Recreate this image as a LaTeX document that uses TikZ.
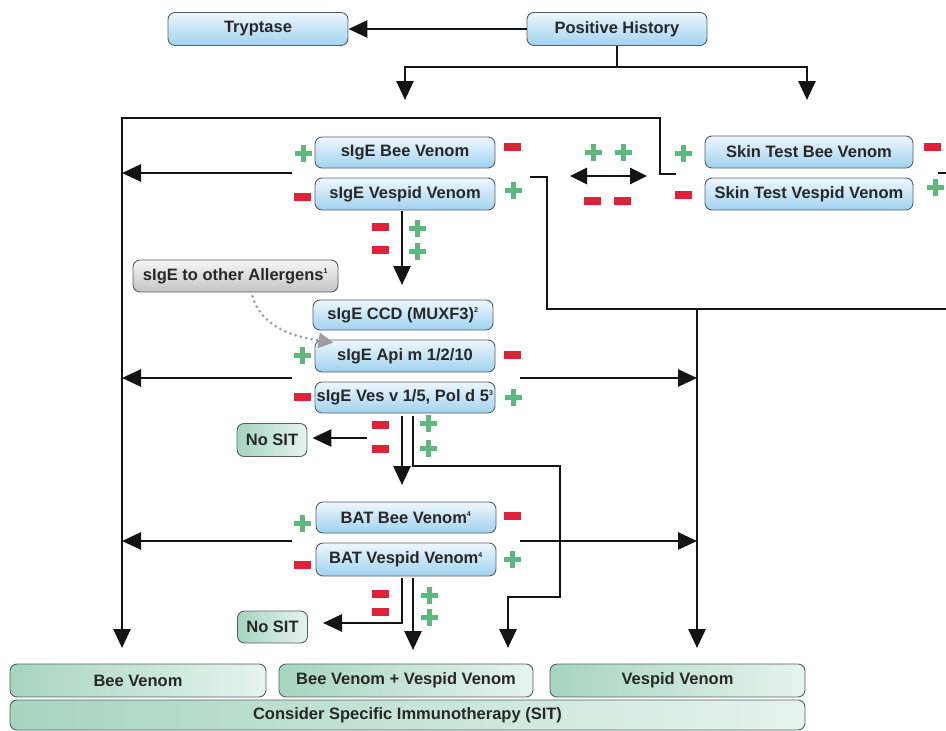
\documentclass[tikz,border=0pt]{standalone}
\usepackage{fontspec}
\setmainfont{Liberation Sans}
\usetikzlibrary{arrows.meta,calc}
\definecolor{bluetop}{RGB}{238,247,253}
\definecolor{bluebot}{RGB}{160,210,240}
\definecolor{greenL}{RGB}{166,213,190}
\definecolor{greenR}{RGB}{230,244,237}
\definecolor{grayT}{RGB}{246,246,246}
\definecolor{grayB}{RGB}{195,195,195}
\definecolor{pgreen}{RGB}{92,184,124}
\definecolor{pred}{RGB}{224,34,56}
\definecolor{bord}{RGB}{85,95,105}
\definecolor{txt}{RGB}{40,40,40}
\newcommand\mysup[1]{\textsuperscript{\fontsize{7}{7}\selectfont #1}}
\begin{document}
\begin{tikzpicture}[x=1pt,y=-1pt,
  box/.style={rounded corners=7pt, draw=bord, line width=0.9pt, inner sep=0pt,
    font=\fontsize{16.5}{18}\selectfont\bfseries, text=txt},
  bluebox/.style={box, top color=bluetop, bottom color=bluebot, minimum width=180pt, minimum height=32pt},
  greenbox/.style={box, left color=greenL, right color=greenR, minimum height=33pt},
  graybox/.style={box, top color=grayT, bottom color=grayB, minimum height=32pt},
  line/.style={line width=2.8pt, draw=black!92},
  arr/.style={line, -{Triangle[length=19pt,width=17pt]}},
  darr/.style={line, {Triangle[length=17pt,width=16pt]}-{Triangle[length=17pt,width=16pt]}},
  dotarr/.style={draw=black!38, line width=3pt, line cap=round, dash pattern=on 0pt off 5.5pt,
    -{Triangle[length=15pt,width=15pt,fill=black!38]}},
  plusmark/.pic={\fill[pgreen] (-8.5,-2.5) rectangle (8.5,2.5); \fill[pgreen] (-2.5,-8.5) rectangle (2.5,8.5);},
  minusmark/.pic={\fill[pred] (-8.5,-4) rectangle (8.5,4);}
]
\useasboundingbox (0,0) rectangle (946,731);

% ---------- connectors ----------
\coordinate (phj) at (617,67);
\coordinate (a1) at (405,100);
\coordinate (a2) at (807,100);
\coordinate (skl) at (676,174);
\coordinate (tl) at (122,118);
\coordinate (bvA) at (122,648);
\coordinate (s1l) at (292,173);
\coordinate (s1t) at (122,173);
\coordinate (s1r) at (530,177);
\coordinate (rj) at (697,309);
\coordinate (vvA) at (697,648);
\coordinate (skr) at (938,173);
\coordinate (skre) at (946,173);
\coordinate (da1) at (570,176);
\coordinate (da2) at (647,176);
\coordinate (sd1) at (402,211);
\coordinate (sd2) at (402,285);
\coordinate (r2l) at (292,378);
\coordinate (r2t) at (122,378);
\coordinate (r2r) at (520,378);
\coordinate (r2v) at (697,378);
\coordinate (m1) at (402,416);
\coordinate (m1e) at (402,485);
\coordinate (m2) at (413,416);
\coordinate (m2e) at (508,648);
\coordinate (n1s) at (367,438);
\coordinate (r3l) at (292,541);
\coordinate (r3t) at (122,541);
\coordinate (r3r) at (520,541);
\coordinate (r3v) at (697,541);
\coordinate (b1) at (402,578);
\coordinate (b1e) at (323,623);
\coordinate (b2) at (413,578);
\coordinate (b2e) at (413,650);

\draw[line] (617,46) -- (phj);
\draw[arr] (phj) -| (a1);
\draw[arr] (phj) -| (a2);
\draw[arr] (skl) -- (660,174) -- (660,118) -- (tl) -- (bvA);
\draw[arr] (s1l) -- (s1t);
\draw[line] (s1r) -- (547,177) -- (547,309) -- (946,309);
\draw[arr] (rj) -- (vvA);
\draw[line] (skr) -- (skre);
\draw[darr] (da1) -- (da2);
\draw[arr] (sd1) -- (sd2);
\draw[arr] (r2l) -- (r2t);
\draw[arr] (r2r) -- (r2v);
\draw[arr] (m1) -- (m1e);
\draw[arr] (m2) -- (413,466) -- (560,466) -- (560,597) -- (508,597) -- (m2e);
\draw[arr] (r3l) -- (r3t);
\draw[arr] (r3r) -- (r3v);
\draw[arr] (b1) -- (402,623) -- (b1e);
\draw[arr] (b2) -- (b2e);

% ---------- nodes ----------
\node[bluebox, minimum height=33pt] (tryp) at (258,29) {Tryptase};
\node[bluebox, minimum height=33pt] (ph) at (617,29) {Positive History};
\draw[arr] (ph.west) -- (tryp.east);

\node[bluebox, minimum height=31pt] (sbee) at (405,152.5) {sIgE Bee Venom};
\node[bluebox] (sves) at (405,194) {sIgE Vespid Venom};
\node[bluebox, minimum width=208pt] (skbee) at (809,152) {Skin Test Bee Venom};
\node[bluebox, minimum width=208pt] (skves) at (809,194) {Skin Test Vespid Venom};

\node[graybox, minimum width=205pt] (oth) at (235.5,276) {sIgE to other Allergens\mysup{1}};
\node[bluebox, minimum height=30pt] (ccd) at (403,315) {sIgE CCD (MUXF3)\mysup{2}};
\node[bluebox] (api) at (405,356) {sIgE Api m 1/2/10};
\node[bluebox, minimum height=31pt] (vesv) at (405,397.5) {sIgE Ves v 1/5, Pol d 5\mysup{3}};

\node[greenbox, minimum width=70pt] (ns1) at (272,440) {No SIT};
\draw[arr, shorten >=5pt] (n1s) -- (ns1.east |- n1s);

\node[bluebox, minimum height=31pt] (batbee) at (406,517.5) {BAT Bee Venom\mysup{4}};
\node[bluebox, minimum height=33pt] (batves) at (406,559.5) {BAT Vespid Venom\mysup{4}};
\node[greenbox, minimum width=70pt, minimum height=32pt] (ns2) at (272.5,627) {No SIT};

\node[greenbox, minimum width=256pt] (bv) at (138,680.5) {Bee Venom};
\node[greenbox, minimum width=254pt] (bvv) at (406,680.5) {Bee Venom + Vespid Venom};
\node[greenbox, minimum width=255pt] (vv) at (677.5,680.5) {Vespid Venom};
\node[greenbox, minimum width=795pt, minimum height=30pt] (sit) at (407.5,715) {Consider Specific Immunotherapy (SIT)};

\draw[dotarr] ($(oth.south)+(17,4)$) .. controls (262,328) and (295,337) .. ($(api.north west)+(19,3)$);

% ---------- plus / minus marks ----------
\pic at (303,153) {plusmark};  \pic at (512,147) {minusmark};
\pic at (302,197) {minusmark}; \pic at (513,190) {plusmark};
\pic at (380,227) {minusmark}; \pic at (380,250) {minusmark};
\pic at (417,228) {plusmark};  \pic at (417,251) {plusmark};
\pic at (593,152) {plusmark};  \pic at (623,152) {plusmark};
\pic at (592,201) {minusmark}; \pic at (622,201) {minusmark};
\pic at (683,153) {plusmark};  \pic at (683,195) {minusmark};
\pic at (932,147) {minusmark}; \pic at (935,187) {plusmark};
\pic at (302,355) {plusmark};  \pic at (512,355) {minusmark};
\pic at (302,397) {minusmark}; \pic at (513,397) {plusmark};
\pic at (380,425) {minusmark}; \pic at (380,449) {minusmark};
\pic at (428,423) {plusmark};  \pic at (428,448) {plusmark};
\pic at (302,523) {plusmark};  \pic at (512,516) {minusmark};
\pic at (302,565) {minusmark}; \pic at (512,559) {plusmark};
\pic at (380,594) {minusmark}; \pic at (380,612) {minusmark};
\pic at (429,595) {plusmark};  \pic at (429,617) {plusmark};
\end{tikzpicture}
\end{document}
